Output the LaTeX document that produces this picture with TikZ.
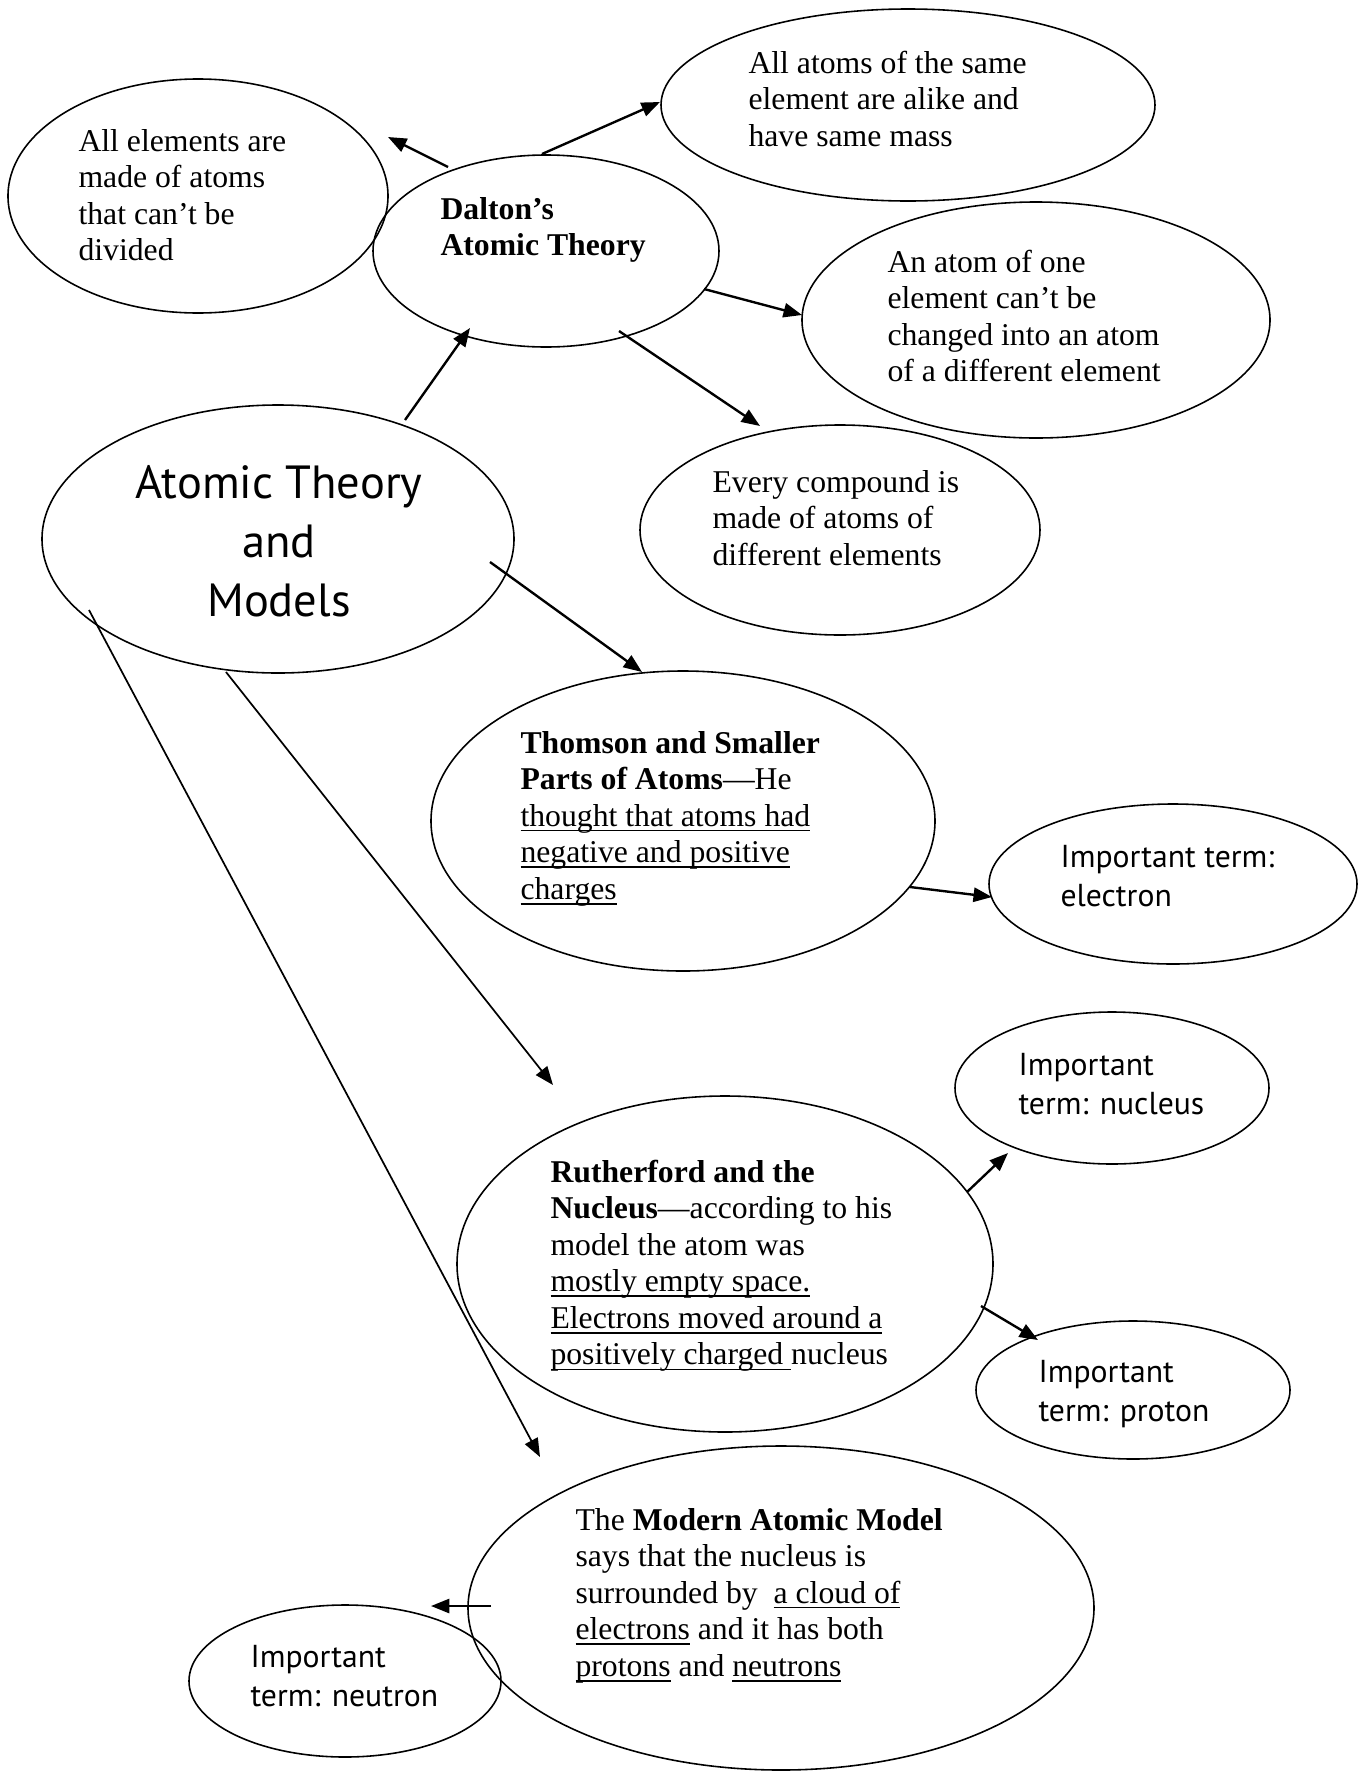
\documentclass[tikz,border=0pt]{standalone}
\usepackage{fontspec}
\setmainfont{Liberation Serif}
\newfontfamily\handfont{PT Sans}
\usetikzlibrary{shapes.geometric,arrows.meta,calc}

% underline at a fixed depth below the baseline
\newlength\ulwd
\newcommand\ulx[1]{\leavevmode\settowidth{\ulwd}{#1}\rlap{\rule[-2pt]{\ulwd}{0.6pt}}#1}
% left-aligned block whose reference point is the first baseline
\newcommand\serifblock[1]{\parbox[t]{300pt}{\fontsize{12}{13.85}\selectfont\raggedright #1}}
\newcommand\handblock[1]{\parbox[t]{200pt}{\handfont\fontsize{12}{15.1}\selectfont\raggedright #1}}

\tikzset{
  oval/.style n args={2}{ellipse, draw, line width=0.6pt,
    minimum width=#1*0.757pt, minimum height=#2*0.757pt, inner sep=0pt},
  txt/.style={anchor=base west, inner sep=0pt},
  arr/.style={-{Triangle[length=7pt,width=5.4pt]}, line width=0.9pt},
  longarr/.style={arr, line width=0.65pt}
}

\begin{document}
\begin{tikzpicture}[x=0.3785pt, y=-0.3785pt]
  \fill[white] (0,0) rectangle (1362,1771);
  \useasboundingbox (0,0) rectangle (1362,1771);

  % ellipses
  \node[oval={190}{117}] (elem)     at (198,196)  {};
  \node[oval={173}{96}]  (dalton)   at (546,251)  {};
  \node[oval={247}{96}]  (same)     at (908,105)  {};
  \node[oval={234}{118}] (change)   at (1036,320) {};
  \node[oval={200}{105}] (compound) at (840,530)  {};
  \node[oval={236}{134}] (main)     at (278,539)  {};
  \node[oval={252}{150}] (thomson)  at (683,821)  {};
  \node[oval={184}{80}]  (electron) at (1173,884) {};
  \node[oval={157}{76}]  (nucleus)  at (1112,1088){};
  \node[oval={268}{168}] (ruth)     at (725,1264) {};
  \node[oval={157}{69}]  (proton)   at (1133,1390){};
  \node[oval={313}{162}] (modern)   at (781,1608) {};
  \node[oval={156}{76}]  (neutron)  at (345,1681) {};

  % texts
  \node[txt] (t-elem) at (78,151) {\serifblock{All elements are\\made of atoms\\that can't be\\divided}};
  \node[txt] (t-dalton) at (440,219) {\serifblock{\textbf{Dalton's}\\\textbf{Atomic Theory}}};
  \node[txt] (t-same) at (748,73) {\serifblock{All atoms of the same\\element are alike and\\have same mass}};
  \node[txt] (t-change) at (887,272) {\serifblock{An atom of one\\element can't be\\changed into an atom\\of a different element}};
  \node[txt] (t-compound) at (712,492) {\serifblock{Every compound is\\made of atoms of\\different elements}};
  \node[anchor=base, inner sep=0pt] (t-main) at (279,498)
    {\parbox[t]{220pt}{\centering\handfont\fontsize{17.6}{22.5}\selectfont Atomic Theory\\and\\Models}};
  \node[txt] (t-thomson) at (520,753) {\serifblock{\textbf{Thomson and Smaller}\\\textbf{Parts of Atoms}---He\\\ulx{thought that atoms had}\\\ulx{negative and positive}\\\ulx{charges}}};
  \node[txt] (t-electron) at (1060,867) {\handblock{Important term:\\electron}};
  \node[txt] (t-nucleus) at (1018,1075) {\handblock{Important\\term: nucleus}};
  \node[txt] (t-ruth) at (550,1182) {\serifblock{\textbf{Rutherford and the}\\\textbf{Nucleus}---according to his\\model the atom was\\\ulx{mostly empty space.}\\\ulx{Electrons moved around a}\\\ulx{positively charged\ }nucleus}};
  \node[txt] (t-proton) at (1038,1382) {\handblock{Important\\term: proton}};
  \node[txt] (t-modern) at (575,1530) {\serifblock{The \textbf{Modern Atomic Model}\\says that the nucleus is\\surrounded by~ \ulx{a cloud of}\\\ulx{electrons} and it has both\\\ulx{protons} and \ulx{neutrons}}};
  \node[txt] (t-neutron) at (250,1667) {\handblock{Important\\term: neutron}};

  % connectors
  \draw[arr] ($(dalton)+(-98,-84)$) -- ($(elem)+(190,-59)$);
  \draw[arr] ($(dalton)+(-4,-97)$) -- ($(same)+(-248,-3)$);
  \draw[arr] ($(dalton)+(158,38)$) -- ($(change)+(-234,-5)$);
  \draw[arr] ($(dalton)+(73,80)$) -- ($(compound)+(-80,-104)$);
  \draw[arr] ($(main)+(127,-119)$) -- ($(dalton)+(-76,77)$);
  \draw[arr] ($(main)+(212,23)$) -- ($(thomson)+(-41,-149)$);
  \draw[longarr] ($(main)+(-52,133)$) -- ($(ruth)+(-172,-179)$);
  \draw[longarr] ($(main)+(-189,71)$) -- ($(modern)+(-241,-151)$);
  \draw[arr] ($(thomson)+(227,66)$) -- ($(electron)+(-181,13)$);
  \draw[arr] ($(ruth)+(242,-72)$) -- ($(nucleus)+(-104,65)$);
  \draw[arr] ($(ruth)+(256,42)$) -- ($(proton)+(-95,-50)$);
  \draw[arr] ($(modern)+(-290,-2)$) -- ($(neutron)+(86,-75)$);
\end{tikzpicture}
\end{document}
